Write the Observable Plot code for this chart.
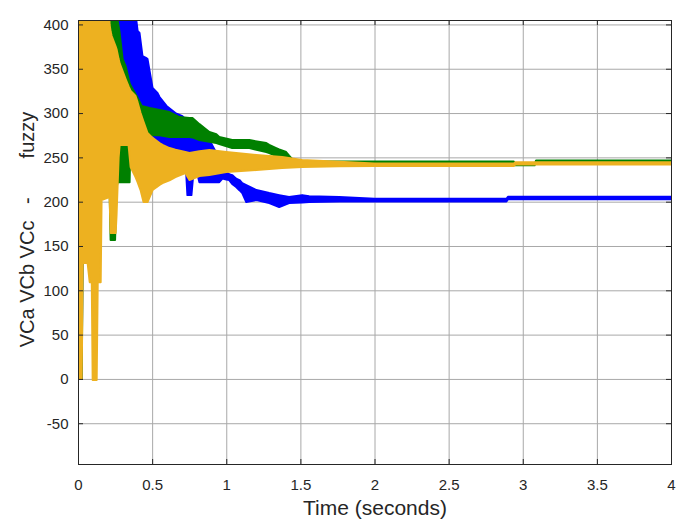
<!DOCTYPE html>
<html><head><meta charset="utf-8">
<script src="https://cdn.jsdelivr.net/npm/d3@7"></script>
<script src="https://cdn.jsdelivr.net/npm/@observablehq/plot@0.6"></script>
<style>
body{margin:0;background:#fff}
svg text{white-space:pre}
</style>
</head><body><div id="chart"></div>
<script>
// ---- data ----
const xTicks = [0, 0.5, 1, 1.5, 2, 2.5, 3, 3.5, 4];
const yTicks = [-50, 0, 50, 100, 150, 200, 250, 300, 350, 400];
const xLabel = "Time (seconds)";
const yLabel = "VCa VCb VCc   -       fuzzy";
const seriesNames = ["VCa", "VCb", "VCc"];

// VCa (blue): time, upper envelope, lower envelope
const blueT  = [0, 0.025, 0.032, 0.052, 0.281, 0.348, 0.355, 0.375, 0.402, 0.415, 0.435, 0.462, 0.469, 0.503, 0.536, 0.55, 0.597, 0.657, 0.704, 0.724, 0.738, 0.765, 0.785, 0.819, 0.886, 0.933, 0.953, 0.974, 1.0, 1.02, 1.04, 1.067, 1.089, 1.108, 1.135, 1.203, 1.29, 1.357, 1.424, 1.512, 1.559, 1.762, 2.0, 2.89, 2.9, 4];
const blueHi = [430, 430, 430, 430, 430, 430, 430, 430, 392.6, 390.3, 364.3, 362, 360.9, 328.2, 322.6, 318.1, 308, 300, 296.6, 293, 292, 290, 288, 284.2, 269.5, 255, 248, 238, 233.4, 231, 230, 226, 224.4, 221, 218.7, 213.1, 209.7, 207.4, 205.2, 207.4, 206, 205.2, 203.3, 203.3, 205.6, 205.6];
const blueLo = [0, 0, 200, 230, 240, 240, 280, 280, 280, 280, 280, 280, 280, 275, 268, 263, 255, 250, 250, 250, 207.4, 207.4, 245, 222, 222, 222, 222, 226, 225, 224.4, 220, 216.5, 213, 209.7, 199.6, 201.8, 198.4, 193.9, 198.4, 199, 199.6, 200.3, 200.3, 200.3, 202.6, 202.6];

// VCb (green)
const greenT  = [0, 0.025, 0.032, 0.04, 0.052, 0.213, 0.22, 0.25, 0.26, 0.267, 0.281, 0.301, 0.321, 0.348, 0.355, 0.395, 0.429, 0.482, 0.55, 0.617, 0.684, 0.752, 0.772, 0.819, 0.886, 0.933, 0.953, 1.04, 1.156, 1.27, 1.29, 1.337, 1.357, 1.404, 1.424, 1.46, 2.94, 2.95, 3.08, 3.09, 4];
const greenHi = [430, 430, 430, 430, 430, 430, 430, 430, 420, 405, 390.3, 360.9, 353, 333.9, 331, 319.2, 307.9, 305.6, 303.4, 301.1, 295.5, 294.5, 294.4, 287.5, 278.6, 276, 272.9, 269.5, 269.5, 266.1, 264, 260.5, 259, 256, 252, 245.2, 245.2, 242, 242, 246.6, 246.6];
const greenLo = [0, 0, 147.6, 160, 215, 215, 156.7, 156.7, 215, 222, 222, 222, 222, 222, 275, 275, 275, 275, 275, 272.9, 272.9, 272.9, 272.5, 269.5, 267.5, 266.1, 265, 260.5, 260.5, 256, 254.9, 251.5, 250.3, 247, 246, 244, 244, 241, 241, 245.4, 245.4];

// VCc (orange)
const orangeT  = [0, 0.025, 0.032, 0.065, 0.079, 0.093, 0.099, 0.126, 0.133, 0.153, 0.159, 0.207, 0.213, 0.22, 0.227, 0.254, 0.26, 0.274, 0.281, 0.321, 0.341, 0.355, 0.388, 0.402, 0.422, 0.442, 0.469, 0.503, 0.55, 0.57, 0.617, 0.657, 0.724, 0.752, 0.819, 0.886, 1.0, 1.203, 1.377, 1.512, 1.762, 2.0, 2.94, 2.95, 4];
const orangeHi = [430, 430, 430, 430, 430, 430, 430, 430, 430, 430, 430, 430, 400, 392, 386.9, 375, 372, 360.9, 356, 338.4, 330, 325, 319.2, 312, 300, 290, 277.4, 272, 266.1, 264, 260.5, 258.5, 256, 254.9, 257, 258.2, 256, 252.6, 250.3, 246.9, 245, 243, 243, 244.5, 244.5];
const orangeLo = [0, 0, 130.7, 130.7, 109.2, 109.2, -1.2, -1.2, 109.2, 109.2, 201.8, 205, 205, 164.6, 164.6, 164.6, 185, 250, 264, 264, 264, 239.1, 227.8, 222.1, 213.1, 199.6, 199.6, 213.1, 219, 221, 224, 227.8, 232.3, 224.4, 229, 230, 233.4, 235.7, 237.9, 239.1, 240, 240.3, 240.3, 241.9, 241.9];

const colors = {VCa: "#0000ff", VCb: "#008000", VCc: "#edb120"};

function rows(name, t, hi, lo) {
  return t.map((d, i) => ({series: name, t: d, hi: hi[i], lo: lo[i]}));
}
const blue = rows(seriesNames[0], blueT, blueHi, blueLo);
const green = rows(seriesNames[1], greenT, greenHi, greenLo);
const orange = rows(seriesNames[2], orangeT, orangeHi, orangeLo);

// ---- layout ----
const W = 677, H = 525;
const mT = 20, mB = 61, mL = 78, mR = 6;
const fw = W - mL - mR, fh = H - mT - mB, tick = 5;
const axisColor = "#262626";
const font = "'Liberation Sans', Arial, Helvetica, sans-serif";

function band(data) {
  const c = colors[data[0].series];
  return Plot.areaY(data, {x: "t", y1: "lo", y2: "hi", fill: c, stroke: c, strokeWidth: 2, strokeLinejoin: "round", clip: true});
}

const chart = Plot.plot({
  width: W, height: H,
  marginTop: mT, marginBottom: mB, marginLeft: mL, marginRight: mR,
  style: {fontFamily: font, fontSize: "15px", color: axisColor, background: "#fff"},
  x: {domain: [0, 4], label: null},
  y: {domain: [-96, 405], label: null},
  marks: [
    Plot.ruleX(xTicks, {stroke: "#a8a8a8", strokeWidth: 1}),
    Plot.ruleY(yTicks, {stroke: "#a8a8a8", strokeWidth: 1}),
    band(blue),
    band(green),
    band(orange),
    Plot.ruleX(xTicks, {stroke: axisColor, insetTop: fh - tick}),
    Plot.ruleX(xTicks, {stroke: axisColor, insetBottom: fh - tick}),
    Plot.ruleY(yTicks, {stroke: axisColor, insetRight: fw - tick}),
    Plot.ruleY(yTicks, {stroke: axisColor, insetLeft: fw - tick}),
    Plot.axisX(xTicks, {tickSize: 0, tickPadding: 15, tickFormat: d => String(d), label: null, fontSize: 15, fill: axisColor}),
    Plot.axisY(yTicks, {tickSize: 0, tickPadding: 10, tickFormat: d => String(d), label: null, fontSize: 15, fill: axisColor}),
    Plot.frame({stroke: axisColor, strokeWidth: 1}),
    Plot.text([xLabel], {frameAnchor: "bottom", dy: 50, fontSize: 21, fill: axisColor}),
    Plot.text([yLabel], {frameAnchor: "left", textAnchor: "middle", dx: -51, dy: -13, rotate: -90, fontSize: 20, fill: axisColor})
  ]
});
document.getElementById("chart").appendChild(chart);
</script>
</body></html>
